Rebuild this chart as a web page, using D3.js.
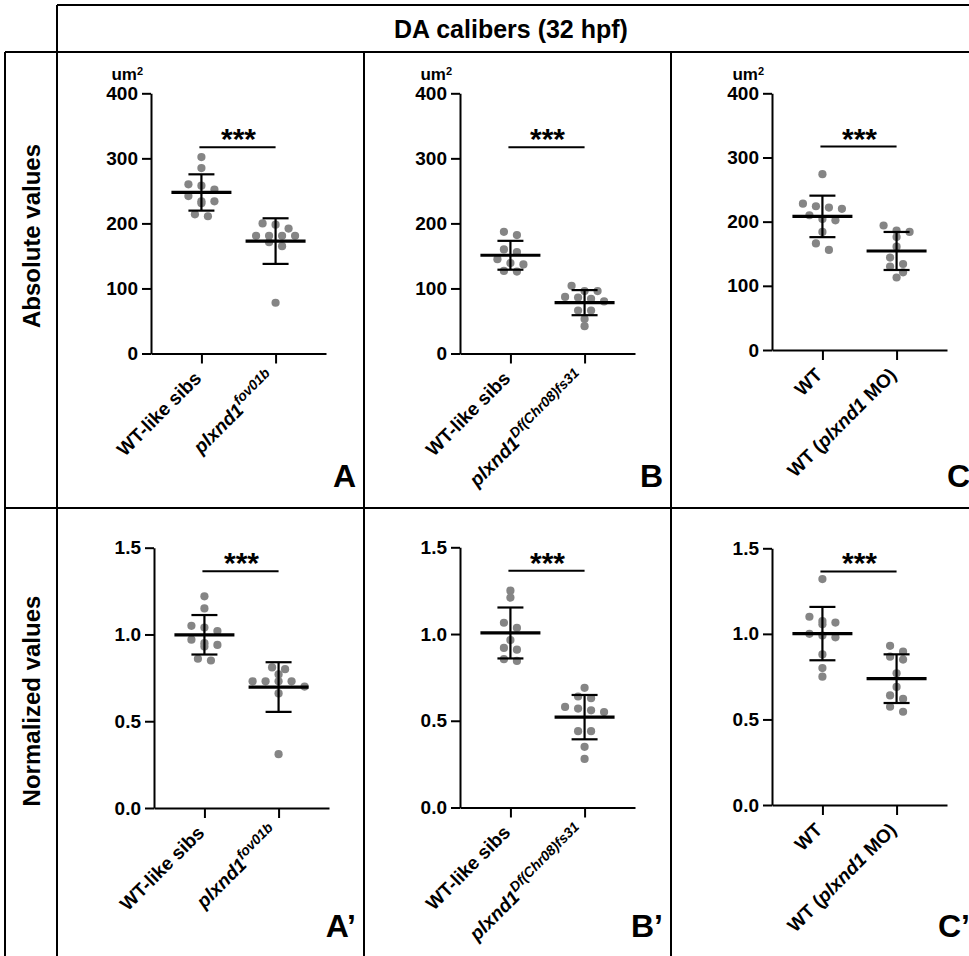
<!DOCTYPE html>
<html>
<head>
<meta charset="utf-8">
<script src="https://cdn.jsdelivr.net/npm/d3@7"></script>
<style>
  body { margin: 0; background: #fff; }
  text { font-family: "Liberation Sans", Arial, sans-serif; font-weight: bold; fill: #000; }
</style>
</head>
<body>
<svg id="chart"></svg>
<script>
// ---- data ----
const title = "DA calibers (32 hpf)"
const rowLabels = ["Absolute values", "Normalized values"]
const panelLetters = [["A", "B", "C"], ["A\u2019", "B\u2019", "C\u2019"]]
const yTicks = [[0, 100, 200, 300, 400], [0, 0.5, 1.0, 1.5]]
const yMax = [400, 1.5]
const sigLevel = [317, 1.365]
const unitLabel = "um"

// category labels, as segments (italic / superscript parts)
const xLabels = [
  [[{ t: "WT-like sibs" }], [{ t: "plxnd1", it: 1 }, { t: "fov01b", it: 1, sup: 1 }]],
  [[{ t: "WT-like sibs" }], [{ t: "plxnd1", it: 1 }, { t: "Df(Chr08)fs31", it: 1, sup: 1 }]],
  [[{ t: "WT" }], [{ t: "WT (" }, { t: "plxnd1", it: 1 }, { t: " MO)" }]],
]

// absolute values (um2)
const absA_sibs = [302, 285, 260, 258, 252, 242, 234, 234, 231, 214, 211]
const absA_mut = [200, 198, 192, 181, 181, 181, 181, 171, 165, 78]
const absB_sibs = [187, 182, 160, 156, 145, 139, 137, 127, 126]
const absB_mut = [104, 96, 96, 87, 86, 84, 80, 66, 66, 53, 42]
const absC_wt = [274, 228, 224, 222, 220, 210, 204, 202, 184, 166, 156]
const absC_mo = [194, 186, 184, 176, 161, 144, 134, 130, 121, 113]

// normalized values
const normA_sibs = [1.22, 1.15, 1.05, 1.04, 1.02, 0.97, 0.95, 0.94, 0.93, 0.86, 0.85]
const normA_mut = [0.81, 0.80, 0.77, 0.73, 0.73, 0.73, 0.73, 0.70, 0.66, 0.31]
const normB_sibs = [1.25, 1.21, 1.065, 1.035, 0.965, 0.92, 0.91, 0.855, 0.845]
const normB_mut = [0.69, 0.64, 0.63, 0.58, 0.57, 0.56, 0.55, 0.44, 0.44, 0.35, 0.28]
const normC_wt = [1.32, 1.10, 1.075, 1.066, 1.056, 1.0, 0.99, 0.98, 0.88, 0.80, 0.75]
const normC_mo = [0.93, 0.896, 0.867, 0.85, 0.77, 0.69, 0.64, 0.62, 0.574, 0.545]

const panels = [
  { row: 0, col: 0, groups: [absA_sibs, absA_mut] },
  { row: 0, col: 1, groups: [absB_sibs, absB_mut] },
  { row: 0, col: 2, groups: [absC_wt, absC_mo] },
  { row: 1, col: 0, groups: [normA_sibs, normA_mut] },
  { row: 1, col: 1, groups: [normB_sibs, normB_mut] },
  { row: 1, col: 2, groups: [normC_wt, normC_mo] },
]

// ---- layout ----
const W = 969, H = 956
const colX = [57, 364, 671]
const colW = 307
const rowB = [508, 956]
const axisDx = [[94, 96, 101], [97, 96, 101]]
const plotTop = [[93.3, 93.3, 93.3], [547.7, 547.3, 548.3]]
const plotBot = [[353.5, 353.5, 350], [808, 807.5, 805]]
const plotW = 175

const svg = d3.select("#chart").attr("width", W).attr("height", H)

// table grid
const grid = [
  [57, 5, W, 5], [57, 5, 57, H], [5, 52, W, 52], [5, 52, 5, H],
  [5, 508, W, 508], [364, 52, 364, H], [671, 52, 671, H],
]
svg.append("g").selectAll("line").data(grid).enter().append("line")
  .attr("x1", d => d[0]).attr("y1", d => d[1]).attr("x2", d => d[2]).attr("y2", d => d[3])
  .attr("stroke", "#000").attr("stroke-width", 2)

svg.append("text").attr("x", 511).attr("y", 38).attr("text-anchor", "middle")
  .style("font-size", "25px").text(title)

const rowLabelY = [236, 701]
rowLabels.forEach((t, i) => {
  svg.append("text")
    .attr("transform", `translate(40,${rowLabelY[i]}) rotate(-90)`)
    .attr("text-anchor", "middle").style("font-size", "24px").text(t)
})

// simple Prism-like scatter layout: rows of nearby points spread sideways
const swarm = (vals, y, cx) => {
  const pts = vals.map(v => ({ v, py: y(v) })).sort((a, b) => a.py - b.py)
  const rows = []
  pts.forEach(p => {
    const last = rows[rows.length - 1]
    if (last && p.py - last[0].py < 6.5) last.push(p)
    else rows.push([p])
  })
  rows.forEach(r => r.forEach((p, i) => { p.px = cx + (i - (r.length - 1) / 2) * 13 }))
  return pts
}

panels.forEach(p => {
  const ax = colX[p.col] + axisDx[p.row][p.col]
  const y = d3.scaleLinear().domain([0, yMax[p.row]])
    .range([plotBot[p.row][p.col], plotTop[p.row][p.col]])
  const x = d3.scalePoint().domain([0, 1]).range([ax, ax + plotW]).padding(0.68)
  const g = svg.append("g")

  const yAxis = d3.axisLeft(y).tickValues(yTicks[p.row]).tickSize(9).tickSizeOuter(0).tickPadding(4)
    .tickFormat(p.row === 0 ? d3.format("d") : d3.format(".1f"))
  g.append("g").attr("transform", `translate(${ax},0)`).call(yAxis)
    .call(s => s.selectAll("text").style("font-size", "19px").style("font-family", null))
    .call(s => s.selectAll("path,line").attr("stroke-width", 2))

  const xAxis = d3.axisBottom(x).tickSize(10).tickSizeOuter(0).tickFormat("")
  g.append("g").attr("transform", `translate(0,${y(0)})`).call(xAxis)
    .call(s => s.selectAll("path,line").attr("stroke-width", 2))

  if (p.row === 0) {
    const u = g.append("text").attr("x", ax - 8).attr("y", y(yMax[0]) - 13)
      .attr("text-anchor", "end").style("font-size", "17px")
    u.append("tspan").text(unitLabel)
    u.append("tspan").attr("dy", -5).style("font-size", "11px").text("2")
  }

  // category labels
  xLabels[p.col].forEach((segs, i) => {
    const t = g.append("text")
      .attr("transform", `translate(${x(i) + 1},${y(0) + 26}) rotate(-45)`)
      .attr("text-anchor", "end").style("font-size", "19px")
    segs.forEach(s => {
      const ts = t.append("tspan").text(s.t)
      if (s.it) ts.style("font-style", "italic")
      if (s.sup) ts.attr("dy", -8).style("font-size", "14px")
    })
  })

  // dots, mean and SD
  p.groups.forEach((vals, i) => {
    const cx = x(i)
    g.append("g").selectAll("circle").data(swarm(vals, y, cx)).enter().append("circle")
      .attr("cx", d => d.px).attr("cy", d => d.py).attr("r", 4.1).attr("fill", "#858585")
    const m = d3.mean(vals), sd = d3.deviation(vals)
    g.append("line").attr("x1", cx).attr("x2", cx).attr("y1", y(m + sd)).attr("y2", y(m - sd))
      .attr("stroke", "#000").attr("stroke-width", 2.2)
    ;[m + sd, m - sd].forEach(v => {
      g.append("line").attr("x1", cx - 13).attr("x2", cx + 13).attr("y1", y(v)).attr("y2", y(v))
        .attr("stroke", "#000").attr("stroke-width", 2.2)
    })
    g.append("line").attr("x1", cx - 30).attr("x2", cx + 30).attr("y1", y(m)).attr("y2", y(m))
      .attr("stroke", "#000").attr("stroke-width", 3.2)
  })

  // significance bar
  const by = y(sigLevel[p.row])
  g.append("line").attr("x1", x(0) - 2).attr("x2", x(1)).attr("y1", by).attr("y2", by)
    .attr("stroke", "#000").attr("stroke-width", 2)
  g.append("text").attr("x", (x(0) + x(1)) / 2).attr("y", by + 2)
    .attr("text-anchor", "middle").style("font-size", "30px").text("***")

  g.append("text").attr("x", colX[p.col] + colW - 8).attr("y", rowB[p.row] - (p.row === 0 ? 21 : 19))
    .attr("text-anchor", "end").style("font-size", "32px").text(panelLetters[p.row][p.col])
})
</script>
</body>
</html>
